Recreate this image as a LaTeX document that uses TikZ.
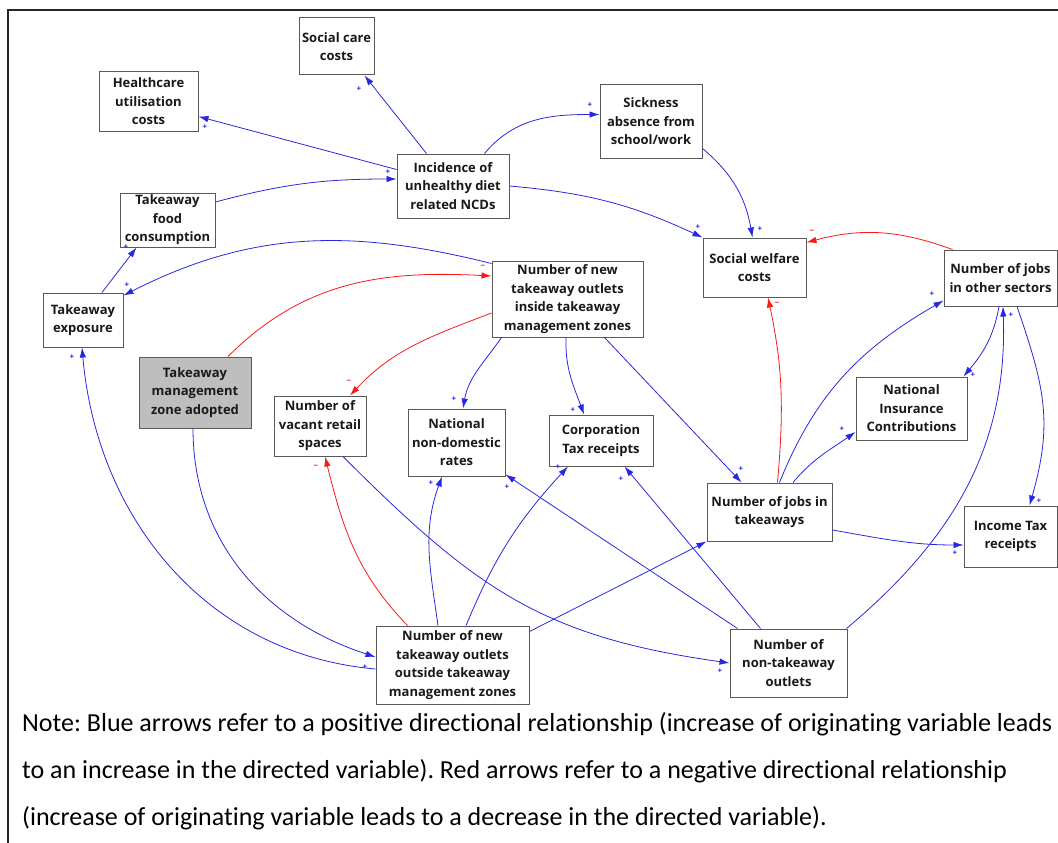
\documentclass[tikz,border=0pt]{standalone}
\usepackage{fontspec}
\setmainfont{Open Sans}
\newfontfamily\notefont[Ligatures=NoCommon]{Carlito}
\usetikzlibrary{arrows.meta,calc}
\definecolor{pblue}{RGB}{40,40,225}
\definecolor{nred}{RGB}{250,25,25}
\definecolor{boxgray}{RGB}{190,190,190}
\frenchspacing
\begin{document}
\begin{tikzpicture}[x=1pt,y=-1pt,
  box/.style={draw=black!65, line width=1pt, fill=white, align=center, inner sep=0pt,
    font=\bfseries\fontsize{13}{18.5}\selectfont, text=black!90},
  posarr/.style={draw=pblue, line width=0.8pt, -{Latex[length=10pt,width=6.5pt]}},
  negarr/.style={draw=nred, line width=0.8pt, -{Latex[length=10pt,width=6.5pt]}},
  plab/.style={text=pblue, font=\bfseries\fontsize{8}{8}\selectfont, inner sep=0pt},
  nlab/.style={text=nred, font=\bfseries\fontsize{8}{8}\selectfont, inner sep=0pt},
  notetext/.style={anchor=base west, inner sep=0pt, font=\notefont\fontsize{26}{26}\selectfont}
]
\useasboundingbox (0,0) rectangle (1058,843);
\fill[white] (0,0) rectangle (1058,843);
\draw[line width=1.5pt, black!85] (1058,10) -- (8,10) -- (8,843);

% nodes
\node[box, minimum width=75pt, minimum height=57pt] (soccare) at (336.5,46.5) {Social care\\costs};
\node[box, minimum width=99pt, minimum height=59pt] (health) at (148.5,101.5) {Healthcare\\utilisation\\costs};
\node[box, minimum width=95pt, minimum height=54pt] (food) at (167.5,220) {Takeaway\\food\\consumption};
\node[box, minimum width=80pt, minimum height=54pt] (expo) at (83,320) {Takeaway\\exposure};
\node[box, fill=boxgray, minimum width=112pt, minimum height=71pt] (tmz) at (195,392.5) {Takeaway\\management\\zone adopted};
\node[box, minimum width=92pt, minimum height=60pt] (vacant) at (320,426) {Number of\\vacant retail\\spaces};
\node[box, minimum width=112pt, minimum height=64pt] (incid) at (453,186) {Incidence of\\unhealthy diet\\related NCDs};
\node[box, minimum width=102pt, minimum height=73pt] (sick) at (651,121.5) {Sickness\\absence from\\school/work};
\node[box, minimum width=151pt, minimum height=76pt] (inside) at (567.5,299) {Number of new\\takeaway outlets\\inside takeaway\\management zones};
\node[box, minimum width=103pt, minimum height=59pt] (welfare) at (754.5,267.5) {Social welfare\\costs};
\node[box, minimum width=113pt, minimum height=56pt] (other) at (1000.5,278) {Number of jobs\\in other sectors};
\node[box, minimum width=111pt, minimum height=63pt] (nic) at (911.5,408.5) {National\\Insurance\\Contributions};
\node[box, minimum width=125pt, minimum height=58pt] (jobs) at (769.5,512) {Number of jobs in\\takeaways};
\node[box, minimum width=93pt, minimum height=61pt] (income) at (1010.5,536.5) {Income Tax\\receipts};
\node[box, minimum width=97pt, minimum height=67pt] (nndr) at (456.5,442.5) {National\\non-domestic\\rates};
\node[box, minimum width=104pt, minimum height=51pt] (corp) at (601,440.5) {Corporation\\Tax receipts};
\node[box, minimum width=153pt, minimum height=78pt] (outside) at (452.5,665) {Number of new\\takeaway outlets\\outside takeaway\\management zones};
\node[box, minimum width=117pt, minimum height=68pt] (nontake) at (788.5,663) {Number of\\non-takeaway\\outlets};

% edges
\draw[posarr] ($(incid.north west)+(30,0)$) -- ($(soccare.south east)+(-10,0)$);
\draw[posarr] ($(incid.north west)+(0,16)$) -- ($(health.south east)+(0,-15)$);
\draw[posarr] ($(incid.north west)+(88,0)$) to[out=50,in=180] ($(sick.north west)+(0,30)$);
\draw[posarr] (incid.east) to[out=-5,in=155] (welfare.north west);
\draw[posarr] ($(sick.south east)+(0,-10)$) to[out=-40,in=100] ($(welfare.north)+(-2,0)$);
\draw[posarr] ($(food.east)+(0,-18)$) to[out=15,in=180] ($(incid.west)+(0,-7)$);
\draw[posarr] ($(expo.north)+(19,0)$) -- ($(food.south west)+(17,0)$);
\draw[posarr] ($(inside.north west)+(0,3)$) to[out=166,in=27] ($(expo.north east)+(0,3)$);
\draw[negarr] ($(tmz.north)+(33,0)$) to[out=45,in=177] ($(inside.west)+(0,-23)$);
\draw[negarr] ($(inside.west)+(0,14)$) to[out=-159,in=47] ($(vacant.north)+(30,0)$);
\draw[posarr] ($(inside.south west)+(10,0)$) to[out=-125,in=80] ($(nndr.north)+(6.5,0)$);
\draw[posarr] ($(inside.south)+(-1.5,0)$) to[out=-92,in=110] ($(corp.north)+(-17,0)$);
\draw[posarr] ($(inside.south east)+(-39,0)$) -- ($(jobs.north west)+(35,0)$);
\draw[negarr] ($(jobs.north)+(8,0)$) to[out=85,in=-78] ($(welfare.south)+(13.5,0)$);
\draw[negarr] ($(other.north west)+(9,0)$) to[out=160,in=15] ($(welfare.north east)+(0,5)$);
\draw[posarr] ($(jobs.north)+(10,0)$) to[out=68,in=210] ($(other.south west)+(0,-6)$);
\draw[posarr] ($(jobs.north)+(23.5,0)$) to[out=50,in=215] ($(nic.west)+(0,23.5)$);
\draw[posarr] ($(other.south)+(-1.5,0)$) to[out=-100,in=50] ($(nic.north east)+(-4,0)$);
\draw[posarr] ($(other.south)+(16.5,0)$) to[out=-71,in=74,looseness=1.1] ($(income.north)+(19,0)$);
\draw[posarr] ($(jobs.east)+(0,18)$) to[out=-10,in=180] ($(income.west)+(0,8.5)$);
\draw[posarr] ($(nontake.north east)+(-1,0)$) to[out=40,in=-88] ($(other.south)+(2.5,0)$);
\draw[posarr] ($(outside.north east)+(0,6)$) -- (jobs.south west);
\draw[posarr] ($(outside.north)+(-14.5,0)$) to[out=98,in=250] ($(nndr.south)+(-14.5,0)$);
\draw[posarr] ($(outside.north)+(13.5,0)$) to[bend left=10] ($(corp.south)+(-33,0)$);
\draw[negarr] ($(outside.north west)+(32,0)$) to[out=134,in=-76] ($(vacant.south)+(5,0)$);
\draw[posarr] ($(vacant.south)+(23,0)$) to[out=-45,in=172,looseness=1.1] (nontake.west);
\draw[posarr] ($(nontake.north west)+(8,0)$) -- ($(nndr.south east)+(0,-2)$);
\draw[posarr] ($(nontake.north west)+(31,0)$) -- ($(corp.south east)+(-29,0)$);
\draw[posarr] ($(tmz.south)+(-2,0)$) to[out=-90,in=162] ($(outside.west)+(0,-8)$);
\draw[posarr] ($(outside.west)+(0,4)$) to[out=175,in=-85] ($(expo.south)+(-1,0)$);

% polarity labels
\node[plab] (pA) at (359,89) {+};
\node[plab] (pB) at (205,127) {+};
\node[plab] (pC) at (590,105) {+};
\node[plab] (pD) at (698,227) {+};
\node[plab] (pE) at (760,229) {+};
\node[plab] (pF) at (388,172) {+};
\node[plab] (pG) at (126,247) {+};
\node[plab] (pH) at (127,285) {+};
\node[nlab] (pI) at (483,267) {−};
\node[nlab] (pJ) at (349,382) {−};
\node[plab] (pK) at (454,399) {+};
\node[plab] (pL) at (573,410) {+};
\node[plab] (pM) at (741,469) {+};
\node[nlab] (pN) at (777,304) {−};
\node[nlab] (pO) at (812,232) {−};
\node[plab] (pP) at (932,294) {+};
\node[plab] (pQ) at (842,429) {+};
\node[plab] (pR) at (973,375) {+};
\node[plab] (pS) at (1039,501) {+};
\node[plab] (pT) at (955,553) {+};
\node[plab] (pU) at (1011,315) {+};
\node[plab] (pW) at (431,483) {+};
\node[plab] (pX) at (558,467) {+};
\node[nlab] (pY) at (316,467) {−};
\node[plab] (pZ) at (720,671) {+};
\node[plab] (pAA) at (507,487) {+};
\node[plab] (pAB) at (621,479) {+};
\node[plab] (pAC) at (365,667) {+};
\node[plab] (pAD) at (72,357) {+};

% note
\node[notetext] (note1) at (22,731) {Note: Blue arrows refer to a positive directional relationship (increase of originating variable leads};
\node[notetext] (note2) at (22,778) {to an increase in the directed variable). Red arrows refer to a negative directional relationship};
\node[notetext] (note3) at (22,825) {(increase of originating variable leads to a decrease in the directed variable).};
\end{tikzpicture}
\end{document}
